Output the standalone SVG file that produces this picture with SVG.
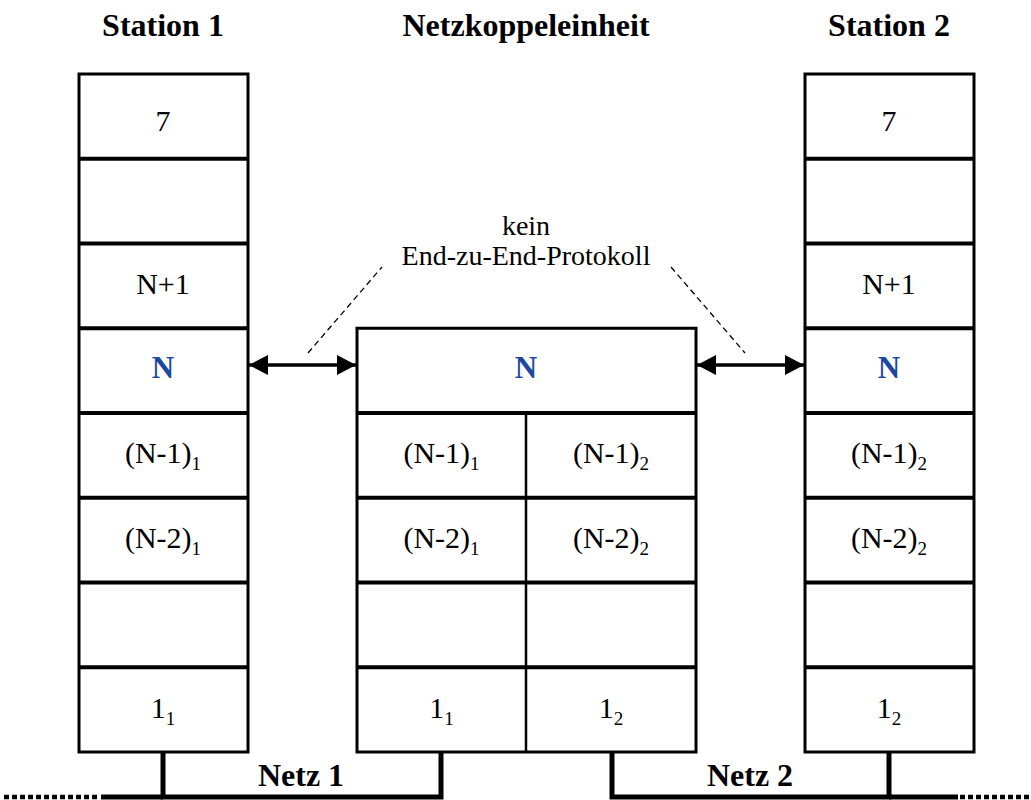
<svg xmlns="http://www.w3.org/2000/svg" width="1031" height="800" viewBox="0 0 1031 800" font-family="'Liberation Serif', 'Times New Roman', serif">
<style>
.t{font-size:32px;font-weight:bold;text-anchor:middle}
.c{font-size:30px;text-anchor:middle}
.s{font-size:19px}
.n{font-size:31px;font-weight:bold;fill:#1c48a0;text-anchor:middle}
.k{font-size:28px;text-anchor:middle}
.box{fill:#fff;stroke:#000;stroke-width:3}
.ln{stroke:#000;stroke-width:4}
.thin{stroke:#000;stroke-width:2.5}
.arr{stroke:#000;stroke-width:3.5}
.bus{stroke:#000;stroke-width:5;fill:none}
.dsh{stroke:#000;stroke-width:4.5;stroke-dasharray:5,3}
.dl{stroke:#000;stroke-width:1.3;stroke-dasharray:6,4}
</style>
<defs>
<marker id="ah" markerWidth="19" markerHeight="20" refX="19" refY="10" orient="auto-start-reverse" markerUnits="userSpaceOnUse"><path d="M0,0 L19,10 L0,20 Z" fill="#000"/></marker>
</defs>
<text class="t" x="163" y="36">Station 1</text>
<text class="t" x="526" y="36">Netzkoppeleinheit</text>
<text class="t" x="889" y="36">Station 2</text>
<g id="station1">
<rect class="box" x="79" y="74" width="169" height="678"/>
<line class="ln" x1="79" y1="158.75" x2="248" y2="158.75"/>
<line class="ln" x1="79" y1="243.5" x2="248" y2="243.5"/>
<line class="ln" x1="79" y1="328.25" x2="248" y2="328.25"/>
<line class="ln" x1="79" y1="413" x2="248" y2="413"/>
<line class="ln" x1="79" y1="497.75" x2="248" y2="497.75"/>
<line class="ln" x1="79" y1="582.5" x2="248" y2="582.5"/>
<line class="ln" x1="79" y1="667.25" x2="248" y2="667.25"/>
<text class="c" x="163" y="131">7</text>
<text class="c" x="163" y="294">N+1</text>
<text class="n" x="163" y="378">N</text>
<text class="c" x="163" y="463">(N-1)<tspan class="s" dy="7">1</tspan></text>
<text class="c" x="163" y="548">(N-2)<tspan class="s" dy="7">1</tspan></text>
<text class="c" x="163" y="718">1<tspan class="s" dy="7">1</tspan></text>
</g>
<g id="koppel">
<rect class="box" x="357" y="328.25" width="339" height="423.75"/>
<line class="ln" x1="357" y1="413" x2="696" y2="413"/>
<line class="ln" x1="357" y1="497.75" x2="696" y2="497.75"/>
<line class="ln" x1="357" y1="582.5" x2="696" y2="582.5"/>
<line class="ln" x1="357" y1="667.25" x2="696" y2="667.25"/>
<line class="thin" x1="526" y1="413" x2="526" y2="752"/>
<text class="n" x="526" y="378">N</text>
<text class="c" x="441.5" y="463">(N-1)<tspan class="s" dy="7">1</tspan></text>
<text class="c" x="611" y="463">(N-1)<tspan class="s" dy="7">2</tspan></text>
<text class="c" x="441.5" y="548">(N-2)<tspan class="s" dy="7">1</tspan></text>
<text class="c" x="611" y="548">(N-2)<tspan class="s" dy="7">2</tspan></text>
<text class="c" x="441.5" y="718">1<tspan class="s" dy="7">1</tspan></text>
<text class="c" x="611" y="718">1<tspan class="s" dy="7">2</tspan></text>
</g>
<g id="station2">
<rect class="box" x="805" y="74" width="169" height="678"/>
<line class="ln" x1="805" y1="158.75" x2="974" y2="158.75"/>
<line class="ln" x1="805" y1="243.5" x2="974" y2="243.5"/>
<line class="ln" x1="805" y1="328.25" x2="974" y2="328.25"/>
<line class="ln" x1="805" y1="413" x2="974" y2="413"/>
<line class="ln" x1="805" y1="497.75" x2="974" y2="497.75"/>
<line class="ln" x1="805" y1="582.5" x2="974" y2="582.5"/>
<line class="ln" x1="805" y1="667.25" x2="974" y2="667.25"/>
<text class="c" x="889" y="131">7</text>
<text class="c" x="889" y="294">N+1</text>
<text class="n" x="889" y="378">N</text>
<text class="c" x="889" y="463">(N-1)<tspan class="s" dy="7">2</tspan></text>
<text class="c" x="889" y="548">(N-2)<tspan class="s" dy="7">2</tspan></text>
<text class="c" x="889" y="718">1<tspan class="s" dy="7">2</tspan></text>
</g>
<g id="label">
<text class="k" x="526" y="235">kein</text>
<text class="k" x="526" y="265">End-zu-End-Protokoll</text>
</g>
<g id="connectors">
<line class="arr" x1="249" y1="365" x2="356" y2="365" marker-start="url(#ah)" marker-end="url(#ah)"/>
<line class="arr" x1="697" y1="365" x2="804" y2="365" marker-start="url(#ah)" marker-end="url(#ah)"/>
<line class="dl" x1="308" y1="353" x2="382" y2="267"/>
<line class="dl" x1="671" y1="267" x2="745" y2="353"/>
<polyline class="bus" points="163,752 163,797 441,797 441,752"/>
<line class="bus" x1="101" y1="797" x2="163" y2="797"/>
<polyline class="bus" points="612,752 612,797 889,797 889,752"/>
<line class="bus" x1="889" y1="797" x2="958" y2="797"/>
<line class="dsh" x1="4" y1="797" x2="100" y2="797"/>
<line class="dsh" x1="960" y1="797" x2="1031" y2="797"/>
</g>
<text class="t" x="301" y="786">Netz 1</text>
<text class="t" x="750" y="786">Netz 2</text>
</svg>
